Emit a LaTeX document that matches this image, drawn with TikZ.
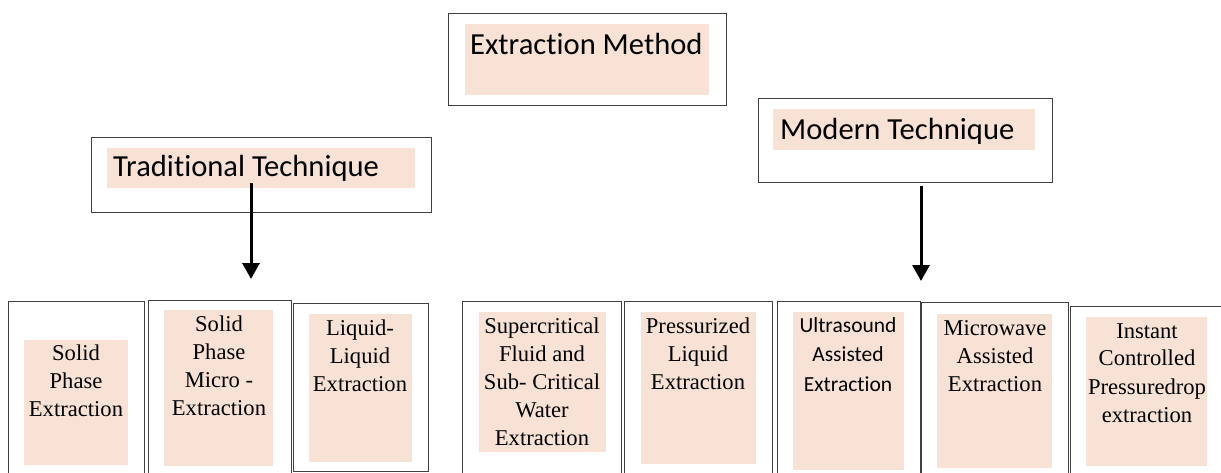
\documentclass[tikz,border=0pt]{standalone}
\usepackage{fontspec}
\setmainfont{Liberation Serif}
\newfontfamily\calibri[Ligatures=NoCommon]{Carlito}
\usetikzlibrary{arrows.meta,positioning}
\definecolor{peach}{RGB}{248,226,213}

\begin{document}
\begin{tikzpicture}[x=1pt,y=-1pt,>={Triangle[width=17pt,length=16pt]}]
\tikzset{frame/.style={draw=black!75,line width=1.1pt,anchor=north west,inner sep=0pt},
  shade/.style={fill=peach,anchor=north west,inner sep=0pt},
  head/.style={font=\calibri\fontsize{30.6}{36}\selectfont,anchor=base west,inner sep=0pt},
  item/.style={font=\fontsize{22.6}{28}\selectfont,align=center,anchor=north,inner sep=0pt},
  itemsans/.style={item,font=\calibri\fontsize{21.5}{29.5}\selectfont},
  down/.style={->,line width=3pt}}
\useasboundingbox (0,0) rectangle (1221,473);

    % top level
    \node[frame,minimum width=278pt,minimum height=92pt] (method) at (448,13) {};
    \node[shade,minimum width=244pt,minimum height=71pt] (methodfill) at (465,24) {};
    \node[head] (methodtxt) at (470,55) {Extraction Method};

    \node[frame,minimum width=340pt,minimum height=75pt] (trad) at (91,137) {};
    \node[shade,minimum width=308pt,minimum height=40pt] (tradfill) at (107,148) {};
    \node[head] (tradtxt) at (113,177) {Traditional Technique};

    \node[frame,minimum width=294pt,minimum height=84pt] (modern) at (758,98) {};
    \node[shade,minimum width=262pt,minimum height=41pt] (modernfill) at (773,109) {};
    \node[head] (moderntxt) at (780,140) {Modern Technique};

    % traditional methods
    \node[frame,minimum width=136pt,minimum height=180pt] (spe) at (8,301) {};
    \node[shade,minimum width=104pt,minimum height=125pt] (spefill) at (24,340) {};
    \node[item] (spetxt) at (76,345) {Solid\\Phase\\Extraction};

    \node[frame,minimum width=143pt,minimum height=180pt] (spme) at (148,300) {};
    \node[shade,minimum width=109pt,minimum height=156pt] (spmefill) at (164,310) {};
    \node[item] (spmetxt) at (219,316) {Solid\\Phase\\Micro -\\Extraction};

    \node[frame,minimum width=135pt,minimum height=168pt] (lle) at (293,303) {};
    \node[shade,minimum width=103pt,minimum height=148pt] (llefill) at (309,314) {};
    \node[item] (lletxt) at (360,320) {Liquid-\\Liquid\\Extraction};

    % modern methods
    \node[frame,minimum width=159pt,minimum height=180pt] (scf) at (462,301) {};
    \node[shade,minimum width=127pt,minimum height=140pt] (scffill) at (479,312) {};
    \node[item] (scftxt) at (542,318) {Supercritical\\Fluid and\\Sub- Critical\\Water\\Extraction};

    \node[frame,minimum width=148pt,minimum height=180pt] (ple) at (624,301) {};
    \node[shade,minimum width=115pt,minimum height=152pt] (plefill) at (641,312) {};
    \node[item] (pletxt) at (698,318) {Pressurized\\Liquid\\Extraction};

    \node[frame,minimum width=143pt,minimum height=180pt] (uae) at (777,301) {};
    \node[shade,minimum width=111pt,minimum height=158pt] (uaefill) at (793,312) {};
    \node[itemsans] (uaetxt) at (848,317) {Ultrasound\\Assisted\\Extraction};

    \node[frame,minimum width=147pt,minimum height=180pt] (mae) at (921,302) {};
    \node[shade,minimum width=115pt,minimum height=154pt] (maefill) at (937,314) {};
    \node[item] (maetxt) at (995,320) {Microwave\\Assisted\\Extraction};

    \node[frame,minimum width=155pt,minimum height=180pt] (dic) at (1070,306) {};
    \node[shade,minimum width=121pt,minimum height=149pt] (dicfill) at (1086,317) {};
    \node[item] (dictxt) at (1147,323) {Instant\\Controlled\\Pressuredrop\\extraction};

    % arrows
    \coordinate (tradtip) at (251,279);
    \coordinate (moderntip) at (921,281);
    \draw[down] ([yshift=5pt]tradfill.south -| tradtip) -- (tradtip);
    \draw[down] ([yshift=-3pt]modern.south -| moderntip) -- (moderntip);
\end{tikzpicture}
\end{document}
